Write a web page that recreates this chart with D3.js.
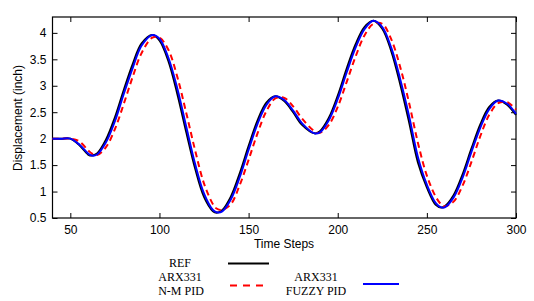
<!DOCTYPE html>
<html>
<head>
<meta charset="utf-8">
<script src="https://cdn.jsdelivr.net/npm/d3@7"></script>
<style>
  body { margin: 0; background: #fff; }
  .tick text { font-family: "Liberation Sans", Arial, sans-serif; font-size: 12px; }
</style>
</head>
<body>
<div id="chart"></div>
<script>
const steps = [40,45,50,55,60,62,65,70,75,80,85,90,96,100,105,110,115,120,125,130,132,135,140,145,150,155,160,165,170,175,180,187,190,195,200,205,210,215,220,225,230,235,240,245,250,255,258,260,265,270,275,280,285,290,295,300]

const refValues = [2.00,2.00,2.00,1.88,1.70,1.68,1.72,1.98,2.40,2.92,3.41,3.80,3.96,3.86,3.47,2.85,2.13,1.44,0.90,0.63,0.60,0.64,0.90,1.34,1.86,2.34,2.68,2.80,2.71,2.50,2.26,2.10,2.14,2.39,2.81,3.32,3.78,4.11,4.23,4.08,3.66,3.04,2.32,1.55,1.08,0.75,0.70,0.72,0.93,1.32,1.81,2.27,2.60,2.72,2.64,2.45]

const nmPidValues = [2.00,2.00,2.00,1.95,1.78,1.72,1.69,1.84,2.18,2.66,3.17,3.62,3.91,3.91,3.68,3.17,2.49,1.78,1.15,0.76,0.68,0.65,0.76,1.12,1.60,2.10,2.52,2.76,2.77,2.61,2.38,2.14,2.11,2.26,2.60,3.07,3.55,3.95,4.17,4.17,3.88,3.36,2.68,1.92,1.30,0.90,0.76,0.72,0.81,1.11,1.56,2.05,2.45,2.67,2.69,2.55]

const fuzzyPidValues = [2.00,2.00,2.00,1.89,1.72,1.68,1.70,1.93,2.33,2.85,3.34,3.76,3.96,3.89,3.53,2.95,2.23,1.52,0.96,0.65,0.61,0.62,0.85,1.27,1.79,2.28,2.64,2.80,2.73,2.53,2.29,2.10,2.12,2.35,2.75,3.25,3.72,4.07,4.23,4.11,3.72,3.13,2.43,1.65,1.13,0.78,0.70,0.70,0.89,1.26,1.75,2.21,2.56,2.72,2.66,2.47]

const xTicks = [50,100,150,200,250,300]
const yTicks = [0.5,1,1.5,2,2.5,3,3.5,4]

const series = [
  {name: "REF", values: refValues, color: "#000", dash: null},
  {name: "ARX331 N-M PID", values: nmPidValues, color: "#ff0000", dash: "6 4"},
  {name: "ARX331 FUZZY PID", values: fuzzyPidValues, color: "#0000ff", dash: null}
]

drawChart("#chart")

function drawChart(id){
  const canvas = {width: 534, height: 301, margin: {top: 17, right: 18, bottom: 83, left: 52.5}}
  const svg = d3.select(id).append("svg").attr("width", canvas.width).attr("height", canvas.height)
  const sc = addScales(canvas)
  addAxes(svg, sc, canvas)
  addLines(svg, sc)
  addLabels(svg, canvas)
  addLegends(svg)
}

function addScales(canvas){
  const xScale = d3.scaleLinear().domain([40, 300])
    .range([canvas.margin.left, canvas.width - canvas.margin.right])
  const yScale = d3.scaleLinear().domain([0.5, 4.3])
    .range([canvas.height - canvas.margin.bottom, canvas.margin.top])
  return {xScale, yScale}
}

function addAxes(svg, sc, canvas){
  const [x0, x1] = sc.xScale.range()
  const [y0, y1] = sc.yScale.range()

  const bottom = svg.append("g").attr("transform", `translate(0,${y0})`)
    .call(d3.axisBottom(sc.xScale).tickValues(xTicks).tickSize(-5).tickPadding(7).tickFormat(d => d))
  const top = svg.append("g").attr("transform", `translate(0,${y1})`)
    .call(d3.axisTop(sc.xScale).tickValues(xTicks).tickSize(-5).tickFormat(""))
  const left = svg.append("g").attr("transform", `translate(${x0},0)`)
    .call(d3.axisLeft(sc.yScale).tickValues(yTicks).tickSize(-5).tickPadding(6).tickFormat(d => d))
  const right = svg.append("g").attr("transform", `translate(${x1},0)`)
    .call(d3.axisRight(sc.yScale).tickValues(yTicks).tickSize(-5).tickFormat(""))

  ;[bottom, top, left, right].forEach(g => {
    g.select(".domain").remove()
    g.selectAll(".tick line").attr("stroke", "#000")
    g.selectAll(".tick text").attr("fill", "#000")
  })

  svg.append("rect").attr("x", x0).attr("y", y1)
    .attr("width", x1 - x0).attr("height", y0 - y1)
    .attr("fill", "none").attr("stroke", "#000").attr("stroke-width", 1.2)
}

function addLines(svg, sc){
  const line = d3.line()
    .x((d, i) => sc.xScale(steps[i]))
    .y(d => sc.yScale(d))
    .curve(d3.curveCatmullRom)

  series.forEach(s => {
    svg.append("path").datum(s.values)
      .attr("fill", "none").attr("stroke", s.color)
      .attr("stroke-width", 2)
      .attr("stroke-dasharray", s.dash)
      .attr("d", line)
  })
}

function addLabels(svg, canvas){
  svg.append("text")
    .attr("x", 284).attr("y", 248)
    .attr("text-anchor", "middle")
    .attr("font-family", "Liberation Sans, Arial, sans-serif").attr("font-size", "12px")
    .text("Time Steps")

  svg.append("text")
    .attr("transform", "translate(22,118) rotate(-90)")
    .attr("text-anchor", "middle")
    .attr("font-family", "Liberation Sans, Arial, sans-serif").attr("font-size", "12px")
    .text("Displacement (inch)")
}

function addLegends(svg){
  const lg = svg.append("g")
    .attr("font-family", "Liberation Serif, Times New Roman, serif").attr("font-size", "12px")
    .attr("text-anchor", "middle")

  lg.append("text").attr("x", 180).attr("y", 267).text("REF")
  lg.append("text").attr("x", 180).attr("y", 281).text("ARX331")
  lg.append("text").attr("x", 181).attr("y", 295).text("N-M PID")

  lg.append("line").attr("x1", 228).attr("x2", 269).attr("y1", 263.5).attr("y2", 263.5)
    .attr("stroke", "#000").attr("stroke-width", 2)
  lg.append("line").attr("x1", 230).attr("x2", 269).attr("y1", 285.5).attr("y2", 285.5)
    .attr("stroke", "#ff0000").attr("stroke-width", 2).attr("stroke-dasharray", "7 6")

  lg.append("text").attr("x", 316).attr("y", 281).text("ARX331")
  lg.append("text").attr("x", 316).attr("y", 295).text("FUZZY PID")

  lg.append("line").attr("x1", 363).attr("x2", 399).attr("y1", 284).attr("y2", 284)
    .attr("stroke", "#0000ff").attr("stroke-width", 2)
}
</script>
</body>
</html>
